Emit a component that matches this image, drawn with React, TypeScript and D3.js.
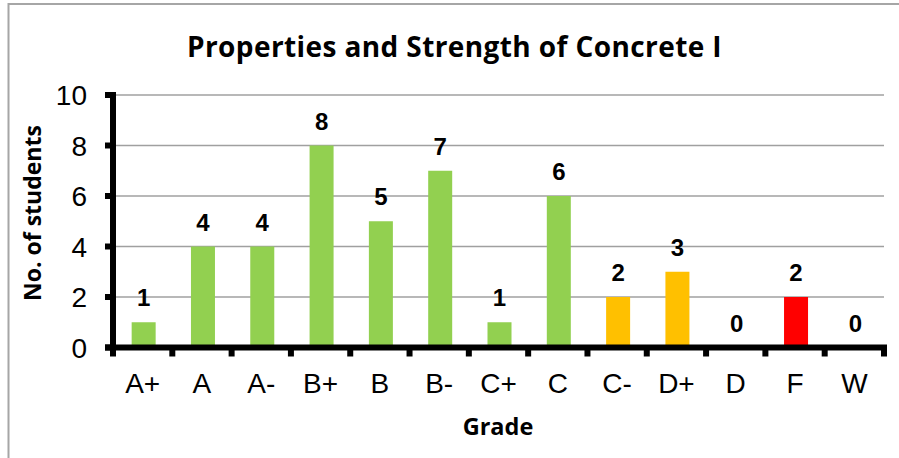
import React from "react";
import * as d3 from "d3";

const categories = ["A+", "A", "A-", "B+", "B", "B-", "C+", "C", "C-", "D+", "D", "F", "W"];
const counts = [1, 4, 4, 8, 5, 7, 1, 6, 2, 3, 0, 2, 0];
const barColors = ["#92D050", "#92D050", "#92D050", "#92D050", "#92D050", "#92D050", "#92D050", "#92D050", "#FFC000", "#FFC000", "#92D050", "#FF0000", "#92D050"];
const yTicks = [0, 2, 4, 6, 8, 10];
const title = "Properties and Strength of Concrete I";
const yTitle = "No. of students";
const xTitle = "Grade";

const W = 899;
const H = 458;
const plotLeft = 113;
const plotRight = 884;
const plotTop = 95;
const plotBottom = 347.5;

export default function App() {
  const x = d3.scaleBand<string>().domain(categories).range([plotLeft, plotRight]).padding(0);
  const y = d3.scaleLinear().domain([0, 10]).range([plotBottom, plotTop]);
  const barW = 24;
  const arial = "'Liberation Sans', Arial, sans-serif";
  const calibri = "'Open Sans', Lato, sans-serif";
  const boundaries = d3.range(categories.length + 1).map((i) => plotLeft + i * x.step());

  return (
    <svg width={W} height={H} style={{ position: "absolute", left: 0, top: 0, background: "#fff" }}>
      <rect x={8.5} y={4} width={1000} height={1000} fill="#fff" stroke="#a6a6a6" strokeWidth={2} />
      <text x={454.5} y={57} textAnchor="middle" fontFamily={calibri} fontWeight="bold" fontSize={28} letterSpacing={0.4} fill="#000">
        {title}
      </text>
      {yTicks.filter((t) => t > 0).map((t) => (
        <line key={"g" + t} x1={plotLeft} x2={plotRight} y1={y(t)} y2={y(t)} stroke="#a0a0a0" strokeWidth={1.5} />
      ))}
      {categories.map((c, i) => (
        <rect
          key={"b" + c}
          x={x(c)! + x.bandwidth() / 2 - barW / 2 + 1}
          y={y(counts[i])}
          width={barW}
          height={plotBottom - y(counts[i])}
          fill={barColors[i]}
        />
      ))}
      {categories.map((c, i) => (
        <text
          key={"l" + c}
          x={x(c)! + x.bandwidth() / 2 + 1}
          y={y(counts[i]) - 16}
          textAnchor="middle"
          fontFamily={arial}
          fontWeight="bold"
          fontSize={24}
          fill="#000"
        >
          {counts[i]}
        </text>
      ))}
      {/* y axis */}
      <line x1={plotLeft} x2={plotLeft} y1={plotTop - 3} y2={plotBottom} stroke="#000" strokeWidth={6} />
      {yTicks.map((t) => (
        <g key={"yt" + t}>
          <line x1={plotLeft - 8} x2={plotLeft} y1={y(t)} y2={y(t)} stroke="#000" strokeWidth={6} />
          <text x={87} y={y(t) + 10} textAnchor="end" fontFamily={arial} fontSize={28} fill="#000">
            {t}
          </text>
        </g>
      ))}
      {/* x axis */}
      <line x1={plotLeft - 8} x2={plotRight + 3} y1={plotBottom} y2={plotBottom} stroke="#000" strokeWidth={6} />
      {boundaries.map((b, i) => (
        <line key={"xt" + i} x1={b} x2={b} y1={plotBottom} y2={plotBottom + 9} stroke="#000" strokeWidth={6} />
      ))}
      {categories.map((c) => (
        <text
          key={"xl" + c}
          x={x(c)! + x.bandwidth() / 2}
          y={393}
          textAnchor="middle"
          fontFamily={arial}
          fontSize={28}
          fill="#000"
        >
          {c}
        </text>
      ))}
      <text x={498} y={435} textAnchor="middle" fontFamily={calibri} fontWeight="bold" fontSize={23.5} fill="#000">
        {xTitle}
      </text>
      <text
        transform={`translate(41, 213) rotate(-90)`}
        textAnchor="middle"
        fontFamily={calibri}
        fontWeight="bold"
        fontSize={23}
        fill="#000"
      >
        {yTitle}
      </text>
    </svg>
  );
}
